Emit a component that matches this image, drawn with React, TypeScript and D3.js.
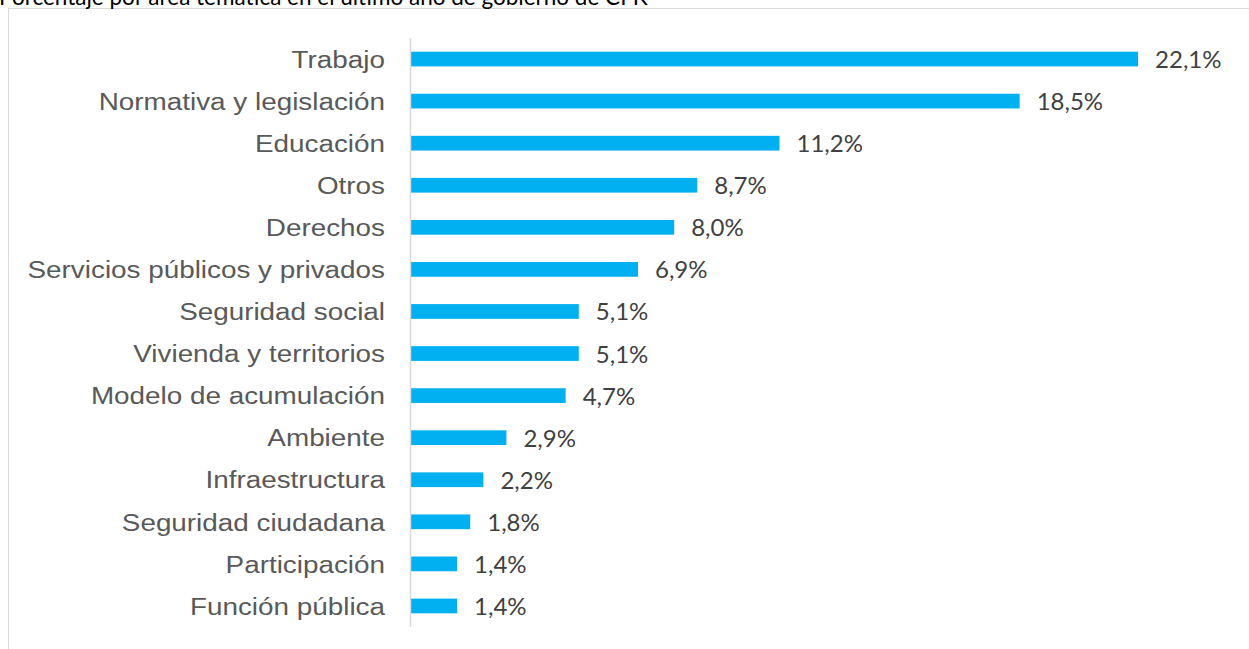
import React from "react";
import * as d3 from "d3";

const title = "Porcentaje por área temática en el último año de gobierno de CFK";
const categories = [
  "Trabajo",
  "Normativa y legislación",
  "Educación",
  "Otros",
  "Derechos",
  "Servicios públicos y privados",
  "Seguridad social",
  "Vivienda y territorios",
  "Modelo de acumulación",
  "Ambiente",
  "Infraestructura",
  "Seguridad ciudadana",
  "Participación",
  "Función pública",
];
const values = [22.1, 18.5, 11.2, 8.7, 8.0, 6.9, 5.1, 5.1, 4.7, 2.9, 2.2, 1.8, 1.4, 1.4];

const W = 1249;
const H = 649;

export default function App() {
  const y = d3
    .scaleBand<string>()
    .domain(categories)
    .range([38, 627])
    .paddingInner(0.65)
    .paddingOuter(0.325);
  const x = d3.scaleLinear().domain([0, 24]).range([411, 411 + 24 * 32.9]);
  const fmt = (v: number) => d3.format(".1f")(v).replace(".", ",") + "%";

  return (
    <svg
      width={W}
      height={H}
      style={{ position: "absolute", left: 0, top: 0, background: "#fff" }}
    >
      <rect x={8.5} y={8.5} width={W + 10} height={H + 10} fill="#fff" stroke="#d9d9d9" strokeWidth={1} />
      <text x={-1} y={4.5} fontFamily="Lato, 'Open Sans', sans-serif" fontSize={22.5} fill="#000">
        {title}
      </text>
      {categories.map((c, i) => {
        const yc = (y(c) ?? 0) + y.bandwidth() / 2;
        return (
          <g key={c}>
            <rect
              x={x(0)}
              y={y(c)}
              width={x(values[i]) - x(0)}
              height={y.bandwidth()}
              fill="#00B0F0"
            />
            <text
              transform={`translate(385, ${yc + 8.7}) scale(1.137, 1)`}
              textAnchor="end"
              fontFamily="'Liberation Sans', Arial, sans-serif"
              fontSize={24.5}
              fill="#595959"
            >
              {c}
            </text>
            <text
              x={x(values[i]) + 17}
              y={yc + 9}
              fontFamily="Lato, 'Open Sans', sans-serif"
              fontSize={24}
              fill="#404040"
            >
              {fmt(values[i])}
            </text>
          </g>
        );
      })}
      <line x1={410.5} x2={410.5} y1={38} y2={627} stroke="#d9d9d9" strokeWidth={1.5} />
    </svg>
  );
}
